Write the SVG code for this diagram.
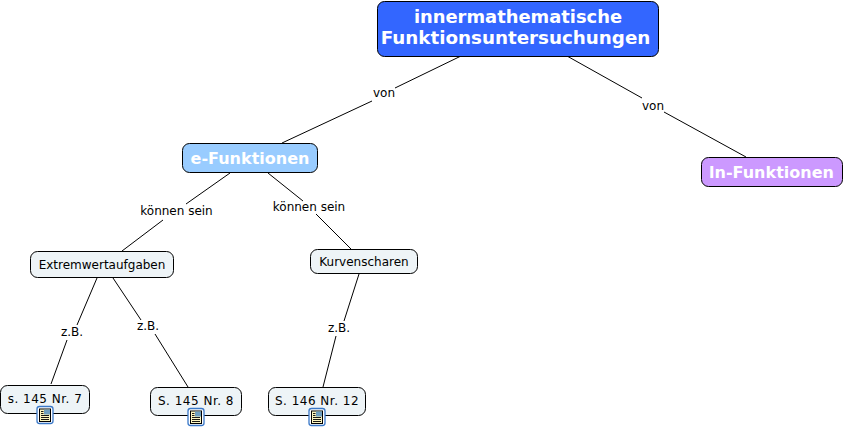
<svg xmlns="http://www.w3.org/2000/svg" width="845" height="428" viewBox="0 0 845 428">
<style>
text{font-family:"DejaVu Sans",Verdana,sans-serif;text-anchor:middle}
.c{stroke:#000;stroke-width:1;fill:none}
.box{stroke:#000;stroke-width:1}
.leaf{fill:#eef4f7}
.t{font-size:12px;fill:#000}
.n{letter-spacing:.5px}
.l{font-size:12px;fill:#000}
.h{font-weight:bold;fill:#fff}
</style>
<defs>
<g id="icon">
<rect x="-8" y="-8.500" width="16" height="17" rx="2.500" fill="#fff" stroke="#3a78c8" stroke-width="1.300"/>
<rect x="-5.500" y="-6" width="11" height="12.500" fill="#fdf6c0" stroke="#000" stroke-width="1"/>
<rect x="-1" y="-5.500" width="6" height="5" fill="#6f9fc0"/>
<path d="M-4 -3.500H-1.500M-4 -1.500H-1.500M-4 .5H4M-4 2.500H4M-4 4.500H4" stroke="#000" stroke-width=".9"/>
</g>
</defs>
<g id="connectors">
<path class="c" d="M461 56L395 88M372 101L282 143"/>
<path class="c" d="M567 56L642 98M664 112L746 157"/>
<path class="c" d="M230 173L186 204M163 220L122 251"/>
<path class="c" d="M268 173L303 201M316 214L351 249"/>
<path class="c" d="M97 278L77 325M67 340L51 384"/>
<path class="c" d="M113 278L141 320M155 334L188 387"/>
<path class="c" d="M359 274L344 321M336 336L323 387"/>
</g>
<g id="labels">
<text class="l" x="384" y="97">von</text>
<text class="l" x="653" y="110">von</text>
<text class="l" x="176.500" y="215">können sein</text>
<text class="l" x="309" y="211">können sein</text>
<text class="l" x="72" y="336">z.B.</text>
<text class="l" x="148" y="330">z.B.</text>
<text class="l" x="339" y="332">z.B.</text>
</g>
<g id="n-root">
<rect class="box" x="377.500" y="1.500" width="281" height="55" rx="7" fill="#3366ff"/>
<text class="h" x="518" y="22.500" font-size="17.900px">innermathematische</text>
<text class="h" x="515.500" y="44" font-size="18.300px">Funktionsuntersuchungen</text>
</g>
<g id="n-e">
<rect class="box" x="182.500" y="143.500" width="135" height="29" rx="7" fill="#99ccff"/>
<text class="h" x="250" y="164" font-size="16px">e-Funktionen</text>
</g>
<g id="n-ln">
<rect class="box" x="701.500" y="157.500" width="141" height="29" rx="7" fill="#cc99ff"/>
<text class="h" x="771.500" y="178" font-size="16px">ln-Funktionen</text>
</g>
<g id="n-extrem">
<rect class="box leaf" x="30.500" y="251.500" width="143" height="26" rx="7"/>
<text class="t" x="102" y="268.500">Extremwertaufgaben</text>
</g>
<g id="n-kurven">
<rect class="box leaf" x="310.500" y="249.500" width="107" height="24" rx="7"/>
<text class="t" x="364" y="265.500">Kurvenscharen</text>
</g>
<g id="n-s7">
<rect class="box leaf" x="0.500" y="385.500" width="89" height="28" rx="7"/>
<text class="t n" x="45" y="403">s. 145 Nr. 7</text>
<use href="#icon" x="45" y="415"/>
</g>
<g id="n-s8">
<rect class="box leaf" x="150.500" y="387.500" width="91" height="28" rx="7"/>
<text class="t n" x="196" y="404.500">S. 145 Nr. 8</text>
<use href="#icon" x="196" y="417"/>
</g>
<g id="n-s12">
<rect class="box leaf" x="268.500" y="387.500" width="97" height="28" rx="7"/>
<text class="t n" x="317" y="404.500">S. 146 Nr. 12</text>
<use href="#icon" x="317" y="417"/>
</g>
</svg>
